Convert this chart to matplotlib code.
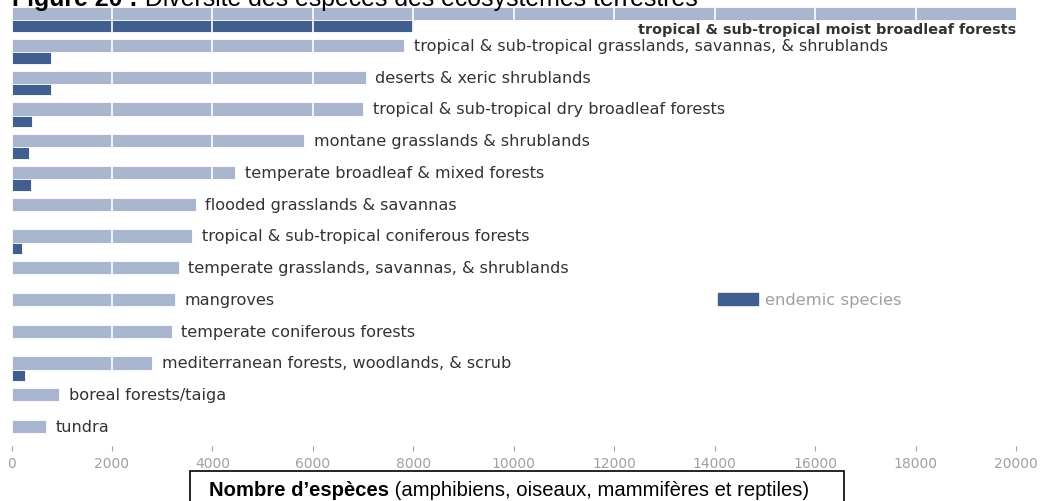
import matplotlib
matplotlib.use("Agg")
import matplotlib.pyplot as plt
from matplotlib.patches import Patch, Rectangle
from matplotlib.text import Annotation

# ── donnees ───────────────────────────────────────────────────────────────
BIOMES = [
    "tropical & sub-tropical moist broadleaf forests",
    "tropical & sub-tropical grasslands, savannas, & shrublands",
    "deserts & xeric shrublands",
    "tropical & sub-tropical dry broadleaf forests",
    "montane grasslands & shrublands",
    "temperate broadleaf & mixed forests",
    "flooded grasslands & savannas",
    "tropical & sub-tropical coniferous forests",
    "temperate grasslands, savannas, & shrublands",
    "mangroves",
    "temperate coniferous forests",
    "mediterranean forests, woodlands, & scrub",
    "boreal forests/taiga",
    "tundra",
]
TOTAL    = [20000, 7820, 7050, 7000, 5830, 4450, 3670, 3600, 3330, 3250, 3190, 2800, 945, 680]
ENDEMIC  = [8000, 790, 790, 410, 340, 390, 0, 200, 0, 0, 0, 270, 0, 0]
XTICKS   = list(range(0, 20001, 2000))

TITRE_B  = "Figure 20 :"
TITRE    = " Diversité des espèces des écosystèmes terrestres"
AXE_B    = "Nombre d’espèces"
AXE      = " (amphibiens, oiseaux, mammifères et reptiles)"

# ── style ─────────────────────────────────────────────────────────────────
CLAIR  = "#AAB6CF"
FONCE  = "#405E8E"
TEXTE  = "#333333"
GRIS   = "#A0A0A0"

W, H = 1052, 502
fig = plt.figure(figsize=(W / 100, H / 100), dpi=100)

# axes en "pixels" verticaux : y = 0 en haut, 447 en bas
ax = fig.add_axes([11.5 / W, (H - 447) / H, 1004.5 / W, 447 / H])
ax.set_xlim(0, 20000)
ax.set_ylim(447, 0)

top0, pas = 8, 31.75
h_clair, h_fonce = 13.3, 11.5
tops = [top0 + pas * i for i in range(len(BIOMES))]

ax.barh(tops, TOTAL, height=h_clair, align="edge", color=CLAIR,
        edgecolor="white", linewidth=0.6, zorder=2)
ax.barh([t + h_clair for t in tops], ENDEMIC, height=h_fonce, align="edge",
        color=FONCE, edgecolor="white", linewidth=0.6, zorder=2)

# separateurs blancs tous les 2000
for xv in XTICKS[1:-1]:
    ax.axvline(xv, color="white", linewidth=1.2, zorder=2.5)

for i, (nom, val, t) in enumerate(zip(BIOMES, TOTAL, tops)):
    if i == 0:
        ax.text(val, t + h_clair + 8.5, nom, ha="right", va="center",
                fontsize=10.4, fontweight="bold", color=TEXTE, zorder=4)
    else:
        ax.text(val + 190, t + h_clair / 2, nom, ha="left", va="center",
                fontsize=11.6, color=TEXTE, zorder=4)

ax.legend(handles=[Patch(facecolor=FONCE, edgecolor=FONCE, label="endemic species")],
          loc="center left", bbox_to_anchor=((718 - 11.5) / 1004.5, 1 - 301 / 447),
          frameon=False, fontsize=11.8, labelcolor=GRIS, borderpad=0,
          borderaxespad=0, handlelength=2.45, handleheight=0.7, handletextpad=0.4)

ax.set_xticks(XTICKS)
ax.set_xticklabels([str(v) for v in XTICKS])
ax.tick_params(axis="x", length=3.6, width=0.8, color=GRIS, labelcolor=GRIS,
               labelsize=10, pad=3.6)
ax.set_yticks([])
for s in ax.spines.values():
    s.set_visible(False)

# titre (coupe en haut comme l'original)
t1 = fig.text(12 / W, 1 - 6 / H, TITRE_B, fontsize=17.9, fontweight="bold",
              family="Liberation Sans", va="baseline", ha="left")
fig.add_artist(Annotation(TITRE, xy=(1, 0), xycoords=t1, fontsize=17.9,
                          family="Liberation Sans", va="bottom", ha="left"))

# cadre du titre d'axe
fig.patches.append(Rectangle((190 / W, -0.05), (844 - 190) / W, 0.05 + (502 - 471.5) / H,
                             transform=fig.transFigure, facecolor="white",
                             edgecolor="black", linewidth=1.2, zorder=5))
a1 = fig.text(209 / W, 1 - 496 / H, AXE_B, fontsize=14.6, fontweight="bold",
              family="Liberation Sans", va="baseline", ha="left", zorder=6)
a2 = Annotation(AXE, xy=(1, 0), xycoords=a1, fontsize=14.6, family="Liberation Sans",
                va="bottom", ha="left")
a2.set_zorder(6)
fig.add_artist(a2)

fig.savefig("out.png", dpi=100)
